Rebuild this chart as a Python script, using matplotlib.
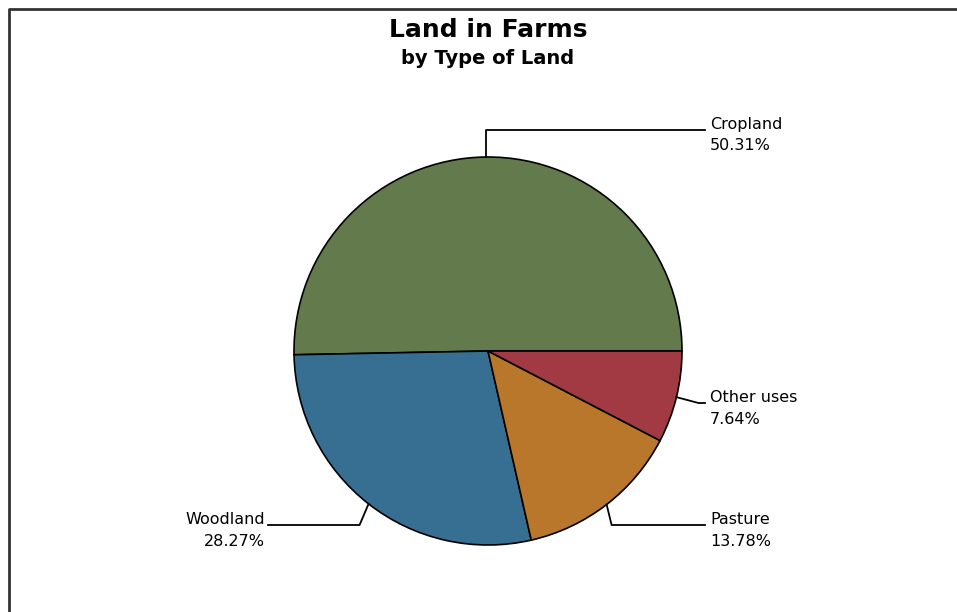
import numpy as np
import matplotlib.pyplot as plt
from matplotlib.lines import Line2D

# data
labels = ['Cropland', 'Woodland', 'Pasture', 'Other uses']
values = [50.31, 28.27, 13.78, 7.64]
colors = ['#637b4c', '#376f93', '#b8772a', '#a23a43']

W, H = 957, 612
fig = plt.figure(figsize=(W / 100, H / 100), dpi=100)
ax = fig.add_axes([0, 0, 1, 1])

cx, cy, r = 488, H - 351, 194
wedges, _ = ax.pie(values, colors=colors, startangle=0, counterclock=True,
                   center=(cx, cy), radius=r, frame=True,
                   wedgeprops=dict(edgecolor='black', linewidth=1.2))
ax.set_xlim(0, W)
ax.set_ylim(0, H)
ax.axis('off')

# leader line end x and y (pixels from top), text side
layout = {
    'Cropland': dict(tx=705, ly=130, ha='left'),
    'Other uses': dict(tx=705, ly=403, ha='left'),
    'Pasture': dict(tx=705, ly=525, ha='left'),
    'Woodland': dict(tx=268, ly=525, ha='right'),
}

for w, lab, val in zip(wedges, labels, values):
    ang = np.deg2rad((w.theta1 + w.theta2) / 2)
    x0, y0 = cx + r * np.cos(ang), cy + r * np.sin(ang)
    lo = layout[lab]
    ey = H - lo['ly']
    if lab == 'Cropland':
        ex = x0
    elif lab == 'Other uses':
        ex = x0 + 22
    elif lab == 'Pasture':
        ex = x0 + 5
    else:
        ex = x0 - 9
    ax.add_line(Line2D([x0, ex, lo['tx']], [y0, ey, ey], color='black', lw=1.3))
    tx = lo['tx'] + 5 if lo['ha'] == 'left' else lo['tx'] - 3
    ax.text(tx, ey + 5, lab, ha=lo['ha'], va='center', fontsize=11.5)
    ax.text(tx, ey - 16, f'{val:.2f}%', ha=lo['ha'], va='center', fontsize=11.5)

fig.text(488 / W, 1 - 30 / H, 'Land in Farms', ha='center', va='center',
         fontsize=18, fontweight='bold')
fig.text(488 / W, 1 - 58 / H, 'by Type of Land', ha='center', va='center',
         fontsize=14, fontweight='bold')

# frame (left and top edges visible)
fig.add_artist(Line2D([9 / W, 9 / W, 1], [0, 1 - 9 / H, 1 - 9 / H],
                      transform=fig.transFigure, color='#333333', lw=2))

fig.savefig('out.png', dpi=100)
